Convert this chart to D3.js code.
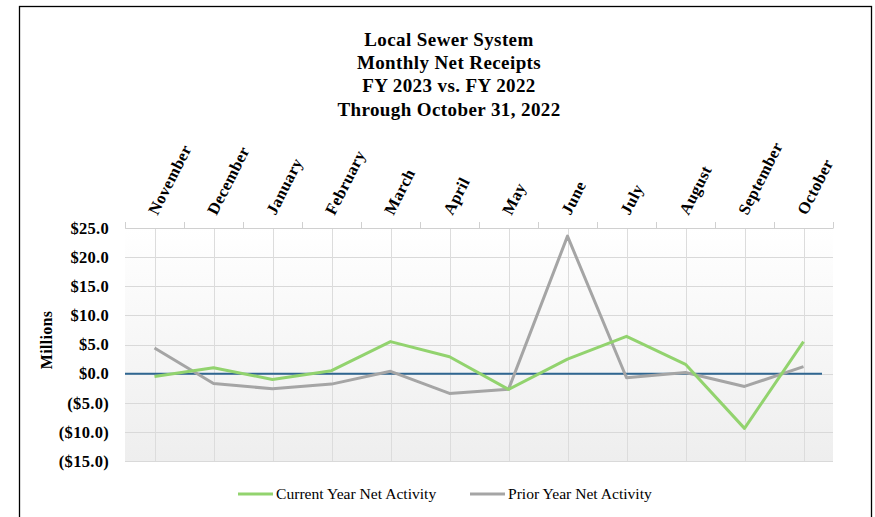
<!DOCTYPE html>
<html>
<head>
<meta charset="utf-8">
<script src="https://cdn.jsdelivr.net/npm/d3@7"></script>
<style>
  body { margin: 0; background: #fff; }
  text { font-family: "Liberation Serif", "DejaVu Serif", serif; }
</style>
</head>
<body>
<div id="chart"></div>
<script>
var months = ["November", "December", "January", "February", "March", "April",
              "May", "June", "July", "August", "September", "October"];
var currentYear = [-0.5, 1.0, -1.0, 0.5, 5.5, 2.9, -2.7, 2.5, 6.4, 1.6, -9.4, 5.5];
var priorYear = [4.4, -1.7, -2.6, -1.8, 0.4, -3.4, -2.7, 23.6, -0.7, 0.2, -2.2, 1.2];
var yTicks = [25, 20, 15, 10, 5, 0, -5, -10, -15];
var titleLines = ["Local Sewer System", "Monthly Net Receipts", "FY 2023 vs. FY 2022", "Through October 31, 2022"];
var seriesNames = ["Current Year Net Activity", "Prior Year Net Activity"];
var seriesColors = ["#92d36e", "#a5a5a5"];

var W = 875, H = 517;
var margin = {top: 228, right: 42, bottom: 56, left: 125},
    width = W - margin.left - margin.right,
    height = H - margin.top - margin.bottom;

var svg = d3.select("#chart").append("svg")
    .attr("width", W)
    .attr("height", H);

// outer frame
svg.append("rect")
    .attr("x", 19.5).attr("y", 6.5)
    .attr("width", 852).attr("height", 520)
    .attr("fill", "none")
    .attr("stroke", "#000")
    .attr("stroke-width", 1.3);

// title
svg.append("g").selectAll("text")
    .data(titleLines)
  .enter().append("text")
    .attr("x", 449)
    .attr("y", function(d, i) { return 46 + i * 23.2; })
    .attr("text-anchor", "middle")
    .attr("font-size", "19px")
    .attr("letter-spacing", "0.4px")
    .attr("font-weight", "bold")
    .attr("fill", "#000")
    .text(function(d) { return d; });

var x = d3.scaleBand().domain(months).range([0, width]);
var y = d3.scaleLinear().domain([-15, 25]).range([height, 0]);

var defs = svg.append("defs");
var grad = defs.append("linearGradient")
    .attr("id", "bg").attr("x1", 0).attr("y1", 0).attr("x2", 0).attr("y2", 1);
grad.append("stop").attr("offset", "0%").attr("stop-color", "#ffffff");
grad.append("stop").attr("offset", "100%").attr("stop-color", "#eeeeee");

var g = svg.append("g")
    .attr("transform", "translate(" + margin.left + "," + margin.top + ")");

g.append("rect")
    .attr("width", width)
    .attr("height", height)
    .attr("fill", "url(#bg)");

// horizontal gridlines
g.append("g").selectAll("line")
    .data(yTicks)
  .enter().append("line")
    .attr("x1", 0).attr("x2", width)
    .attr("y1", function(d) { return Math.round(y(d)) + 0.5; })
    .attr("y2", function(d) { return Math.round(y(d)) + 0.5; })
    .attr("stroke", "#d9d9d9")
    .attr("stroke-width", 1.2);

// vertical gridlines at month centres
g.append("g").selectAll("line")
    .data(months)
  .enter().append("line")
    .attr("x1", function(d) { return Math.round(x(d) + x.bandwidth() / 2) + 0.5; })
    .attr("x2", function(d) { return Math.round(x(d) + x.bandwidth() / 2) + 0.5; })
    .attr("y1", 0).attr("y2", height)
    .attr("stroke", "#dcdcdc")
    .attr("stroke-width", 1);

// top category axis
var xAxis = d3.axisTop(x).tickSize(0).tickFormat("");
var xg = g.append("g").call(xAxis);
xg.select(".domain").attr("stroke", "#d0d0d0");
var bounds = months.map(function(d) { return x(d); }).concat([width]);
xg.selectAll(".bound").data(bounds)
  .enter().append("line")
    .attr("class", "bound")
    .attr("x1", function(d) { return Math.round(d) + 0.5; })
    .attr("x2", function(d) { return Math.round(d) + 0.5; })
    .attr("y1", 0).attr("y2", -6)
    .attr("stroke", "#d0d0d0");

g.append("g").selectAll("text")
    .data(months)
  .enter().append("text")
    .attr("transform", function(d) {
      return "translate(" + (x(d) + x.bandwidth() / 2 + 3) + "," + -12 + ") rotate(-63)";
    })
    .attr("text-anchor", "start")
    .attr("font-size", "16.5px")
    .attr("letter-spacing", "0.3px")
    .attr("font-weight", "bold")
    .attr("fill", "#000")
    .text(function(d) { return d; });

// y axis labels
var yAxis = d3.axisLeft(y).tickValues(yTicks).tickSize(0).tickPadding(16)
    .tickFormat(function(d) {
      var s = "$" + d3.format(".1f")(Math.abs(d));
      return d < 0 ? "(" + s + ")" : s;
    });
var yg = g.append("g").call(yAxis);
yg.select(".domain").remove();
yg.selectAll("text")
    .attr("font-family", "Liberation Serif, serif")
    .attr("font-size", "16.5px")
    .attr("letter-spacing", "0.3px")
    .attr("font-weight", "bold")
    .attr("fill", "#000");

svg.append("text")
    .attr("transform", "translate(52," + 340 + ") rotate(-90)")
    .attr("text-anchor", "middle")
    .attr("font-size", "16px")
    .attr("letter-spacing", "0.3px")
    .attr("font-weight", "bold")
    .text("Millions");

// zero line
g.append("line")
    .attr("x1", 0).attr("x2", width - 11)
    .attr("y1", y(0)).attr("y2", y(0))
    .attr("stroke", "#2f6691")
    .attr("stroke-width", 2);

var line = d3.line()
    .x(function(d, i) { return x(months[i]) + x.bandwidth() / 2; })
    .y(function(d) { return y(d); });

[priorYear, currentYear].forEach(function(series, k) {
  g.append("path")
      .datum(series)
      .attr("fill", "none")
      .attr("stroke", k === 0 ? seriesColors[1] : seriesColors[0])
      .attr("stroke-width", 3)
      .attr("stroke-linejoin", "round")
      .attr("d", line);
});

// legend
var legendX = [238, 470];
var lg = svg.append("g").selectAll("g")
    .data(seriesNames)
  .enter().append("g")
    .attr("transform", function(d, i) { return "translate(" + legendX[i] + ",494)"; });
lg.append("line")
    .attr("x1", 0).attr("x2", 35)
    .attr("stroke", function(d, i) { return seriesColors[i]; })
    .attr("stroke-width", 3);
lg.append("text")
    .attr("x", 38).attr("y", 5)
    .attr("font-size", "15.6px")
    .attr("fill", "#000")
    .text(function(d) { return d; });
</script>
</body>
</html>
